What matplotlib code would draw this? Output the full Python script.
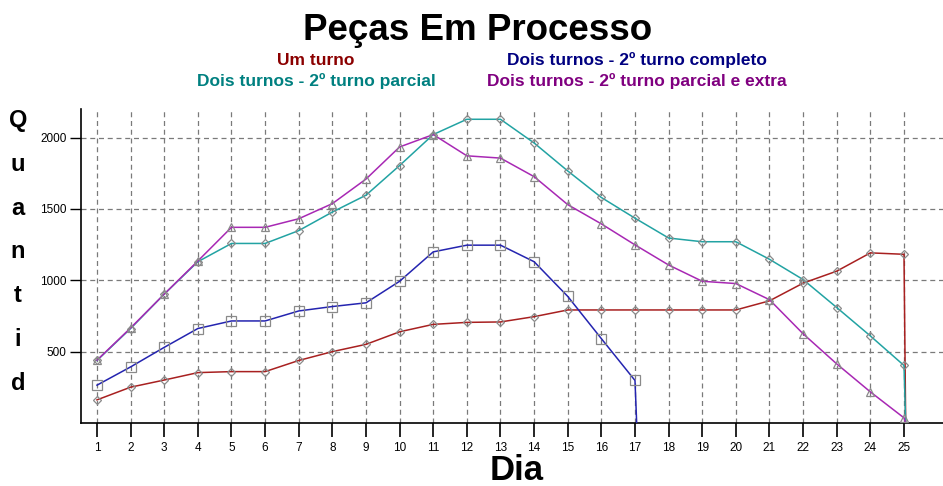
import matplotlib
matplotlib.use("Agg")
import matplotlib.pyplot as plt

plt.rcParams['font.family'] = ['Liberation Sans', 'DejaVu Sans']

# dados
dias = list(range(1, 26))
um_turno = [162, 251, 301, 353, 360, 360, 438, 500, 551, 639, 691, 705, 708,
            745, 792, 792, 792, 792, 792, 792, 856, 980, 1064, 1192, 1182]
completo = [265, 393, 530, 662, 715, 715, 785, 816, 842, 993, 1199, 1246,
            1246, 1130, 887, 591, 298]
parcial = [438, 662, 903, 1130, 1258, 1258, 1348, 1478, 1596, 1804, 2021,
           2128, 2128, 1962, 1766, 1580, 1435, 1296, 1270, 1270, 1147, 1005,
           809, 610, 403]
extra = [440, 666, 903, 1135, 1371, 1371, 1431, 1537, 1709, 1934, 2021, 1872,
         1856, 1726, 1530, 1395, 1248, 1107, 993, 977, 864, 625, 414, 218, 36]

nomes = ["Um turno", "Dois turnos - 2º turno completo",
         "Dois turnos - 2º turno parcial",
         "Dois turnos - 2º turno parcial e extra"]
yticks = [500, 1000, 1500, 2000]

series = [
    (um_turno, '#a82020', '#8b0000', 'D', 4.5),
    (completo, '#2424b0', '#000080', 's', 6.5),
    (parcial, '#22a3a3', '#008080', 'D', 4.5),
    (extra, '#a828b4', '#800080', '^', 6),
]

fig = plt.figure(figsize=(9.43, 4.86), dpi=100)
ax = fig.add_axes([80.5 / 943, 1 - 423 / 486, 1 - 80.5 / 943, (423 - 109) / 486])

for vals, cor, _, mk, ms in series:
    n = len(vals)
    # queda final ate zero, ligeiramente a direita do ultimo dia
    xs = dias[:n] + [dias[n - 1] + 0.05]
    ys = vals + [0]
    ax.plot(xs, ys, color=cor, lw=1.1, zorder=3)
    ax.plot(dias[:n], vals, ls='none', marker=mk, ms=ms, mfc='none',
            mec='#8a8a8a', mew=0.9, zorder=4)

ax.set_xlim(0.51, 26.16)
ax.set_ylim(0, 2200)
ax.set_xticks(dias)
ax.set_yticks(yticks)
ax.tick_params(axis='x', direction='out', length=10, width=1.2, pad=4,
               labelsize=8.5)
ax.tick_params(axis='y', direction='out', length=8, width=1, pad=2,
               labelsize=8.5)
ax.grid(True, color='#7a7a7a', ls=(0, (4, 3)), lw=0.9)
ax.set_axisbelow(True)
for s in ['top', 'right']:
    ax.spines[s].set_visible(False)
ax.spines['left'].set_linewidth(1.2)
ax.spines['bottom'].set_linewidth(1.2)

fig.text(478 / 943, 1 - 40 / 486, "Peças Em Processo", ha='center',
         va='baseline', fontsize=26.5, fontweight='bold')

pos = [(316, 65), (637, 65), (316, 86), (637, 86)]
for (x, y), nome, s in zip(pos, nomes, series):
    fig.text(x / 943, 1 - y / 486, nome, ha='center', va='baseline',
             fontsize=12.5, fontweight='bold', color=s[2])

fig.text(18 / 943, 1 - 252 / 486, "\n".join("Quantid"), ha='center',
         va='center', multialignment='center', fontsize=17,
         fontweight='bold', linespacing=2.15)

fig.text(517 / 943, 1 - 480 / 486, "Dia", ha='center', va='baseline',
         fontsize=25, fontweight='bold')

fig.savefig("out.png", dpi=100)
